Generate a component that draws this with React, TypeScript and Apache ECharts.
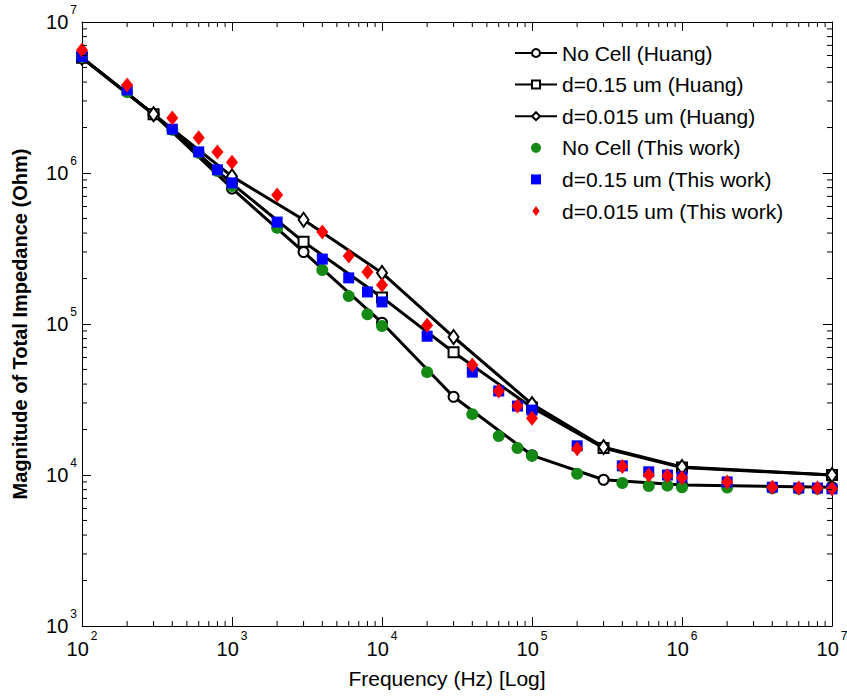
import React, { useEffect, useRef } from "react";
import * as echarts from "echarts";

// ---- Data ----
const huangFreq = [100, 300, 1000, 3000, 1e4, 3e4, 1e5, 3e5, 1e6, 1e7];
const huangNoCell = [5.8e6, 2.45e6, 7.9e5, 3.0e5, 1.02e5, 3.3e4, 1.35e4, 9.3e3, 8.6e3, 8.3e3];
const huangD015 = [5.8e6, 2.45e6, 8.5e5, 3.5e5, 1.5e5, 6.5e4, 2.8e4, 1.51e4, 1.12e4, 1.0e4];
const huangD0015 = [5.8e6, 2.45e6, 9.5e5, 4.9e5, 2.18e5, 8.2e4, 2.95e4, 1.53e4, 1.13e4, 1.0e4];

const workFreq = [
  100, 200, 400, 600, 800, 1000, 2000, 4000, 6000, 8000, 1e4, 2e4, 4e4, 6e4, 8e4, 1e5,
  2e5, 4e5, 6e5, 8e5, 1e6, 2e6, 4e6, 6e6, 8e6, 1e7,
];
const workNoCell = [
  5.86e6, 3.43e6, 1.93e6, 1.36e6, 1.03e6, 8.2e5, 4.33e5, 2.28e5, 1.53e5, 1.16e5, 9.7e4,
  4.8e4, 2.53e4, 1.81e4, 1.51e4, 1.34e4, 1.02e4, 8.85e3, 8.45e3, 8.5e3, 8.3e3, 8.25e3,
  8.15e3, 8.1e3, 8.1e3, 8.1e3,
];
const workD015 = [
  5.9e6, 3.55e6, 1.95e6, 1.38e6, 1.05e6, 8.6e5, 4.73e5, 2.69e5, 2.02e5, 1.63e5, 1.4e5,
  8.3e4, 4.8e4, 3.6e4, 2.86e4, 2.69e4, 1.56e4, 1.15e4, 1.05e4, 1.0e4, 9.7e3, 9.0e3,
  8.3e3, 8.2e3, 8.2e3, 8.1e3,
];
const workD0015 = [
  6.53e6, 3.83e6, 2.31e6, 1.71e6, 1.38e6, 1.18e6, 7.15e5, 4.06e5, 2.82e5, 2.21e5, 1.81e5,
  9.8e4, 5.35e4, 3.6e4, 2.86e4, 2.38e4, 1.49e4, 1.14e4, 1.0e4, 9.9e3, 9.6e3, 9.0e3,
  8.3e3, 8.2e3, 8.2e3, 8.1e3,
];

const seriesNames = [
  "No Cell (Huang)",
  "d=0.15 um (Huang)",
  "d=0.015 um (Huang)",
  "No Cell (This work)",
  "d=0.15 um (This work)",
  "d=0.015 um (This work)",
];

const X_MIN = 100;
const X_MAX = 1e7;
const Y_MIN = 1e3;
const Y_MAX = 1e7;

const minorMultipliers = [2, 3, 4, 5, 6, 7, 8, 9];
const xDecades = [100, 1000, 1e4, 1e5, 1e6];
const yDecades = [1000, 1e4, 1e5, 1e6];
const minorX: number[] = [];
xDecades.forEach((d) => minorMultipliers.forEach((m) => minorX.push(m * d)));
const minorY: number[] = [];
yDecades.forEach((d) => minorMultipliers.forEach((m) => minorY.push(m * d)));

const FONT = '"Liberation Sans", Arial, Helvetica, sans-serif';

const pairs = (xs: number[], ys: number[]) => xs.map((x, i) => [x, ys[i]]);

const labelFmt = (v: number) => `{b|10}{e|${Math.round(Math.log10(v))}}`;
const rich = {
  b: { fontSize: 20, lineHeight: 37, fontFamily: FONT, color: "#000" },
  e: { fontSize: 12, lineHeight: 12, verticalAlign: "top", fontFamily: FONT, color: "#000", padding: [0, 0, 0, 2] },
};

export default function App() {
  const ref = useRef<HTMLDivElement>(null);

  useEffect(() => {
    document.body.style.margin = "0";
    if (!ref.current) return;
    const chart = echarts.init(ref.current, undefined, { renderer: "svg" });

    const axisLine = { show: true, lineStyle: { color: "#000", width: 1 } };
    const axisTick = { show: true, inside: true, length: 9, lineStyle: { color: "#000", width: 1 } };

    const huangLine = (name: string, ys: number[], symbol: string, size: any) => ({
      name,
      type: "line",
      data: pairs(huangFreq, ys),
      symbol,
      symbolSize: size,
      showAllSymbol: true,
      itemStyle: { color: "#fff", borderColor: "#000", borderWidth: 2 },
      lineStyle: { color: "#000", width: 3 },
      z: 2,
    });

    const workScatter = (name: string, ys: number[], symbol: string, size: any, color: string) => ({
      name,
      type: "scatter",
      data: pairs(workFreq, ys),
      symbol,
      symbolSize: size,
      itemStyle: { color, opacity: 1 },
      z: 3,
    });

    const option: any = {
      animation: false,
      backgroundColor: "#fff",
      textStyle: { fontFamily: FONT },
      grid: { left: 82, right: 15, top: 22, bottom: 70, containLabel: false, outerBoundsMode: "none" },
      legend: {
        orient: "vertical",
        left: 514,
        top: 42,
        padding: 0,
        itemWidth: 42,
        itemHeight: 10,
        itemGap: 9.6,
        selectedMode: false,
        textStyle: { fontSize: 21, fontFamily: FONT, color: "#000", lineHeight: 22 },
        data: [
          { name: seriesNames[0] },
          { name: seriesNames[1] },
          { name: seriesNames[2] },
          { name: seriesNames[3], icon: "circle" },
          { name: seriesNames[4], icon: "path://M0,0L10,0L10,10L0,10Z" },
          { name: seriesNames[5], icon: "path://M5,0L10,7L5,14L0,7Z" },
        ],
      },
      xAxis: [
        {
          type: "log",
          logBase: 10,
          min: X_MIN,
          max: X_MAX,
          position: "bottom",
          name: "Frequency (Hz) [Log]",
          nameLocation: "middle",
          nameGap: 42,
          nameTextStyle: { fontSize: 21, fontFamily: FONT, color: "#000", padding: [0, 20, 0, 0] },
          axisLine,
          axisTick,
          splitLine: { show: false },
          axisLabel: { formatter: labelFmt, rich, margin: 4, color: "#000" },
        },
        {
          type: "log",
          logBase: 10,
          min: X_MIN,
          max: X_MAX,
          position: "top",
          axisLine,
          axisTick,
          splitLine: { show: false },
          axisLabel: { show: false },
        },
      ],
      yAxis: [
        {
          type: "log",
          logBase: 10,
          min: Y_MIN,
          max: Y_MAX,
          position: "left",
          name: "Magnitude of Total Impedance (Ohm)",
          nameLocation: "middle",
          nameGap: 52,
          nameTextStyle: { fontSize: 20, fontWeight: "bold", fontFamily: FONT, color: "#000" },
          axisLine,
          axisTick,
          splitLine: { show: false },
          axisLabel: { formatter: labelFmt, rich, margin: 5, color: "#000" },
        },
        {
          type: "log",
          logBase: 10,
          min: Y_MIN,
          max: Y_MAX,
          position: "right",
          axisLine,
          axisTick,
          splitLine: { show: false },
          axisLabel: { show: false },
        },
      ],
      series: [
        huangLine(seriesNames[0], huangNoCell, "circle", 10),
        huangLine(seriesNames[1], huangD015, "rect", 10),
        huangLine(seriesNames[2], huangD0015, "diamond", [10, 14]),
        workScatter(seriesNames[3], workNoCell, "circle", 12, "#148a14"),
        workScatter(seriesNames[4], workD015, "rect", 11, "#0000ff"),
        workScatter(seriesNames[5], workD0015, "diamond", [12, 15], "#ff0000"),
        {
          name: "xminor",
          type: "custom",
          silent: true,
          z: 5,
          data: minorX.map((v) => [v, Y_MIN]),
          encode: { x: 0, y: 1 },
          renderItem: (_p: any, api: any) => {
            const v = api.value(0);
            const b = api.coord([v, Y_MIN]);
            const t = api.coord([v, Y_MAX]);
            return {
              type: "group",
              children: [
                { type: "line", shape: { x1: b[0], y1: b[1], x2: b[0], y2: b[1] - 5 }, style: { stroke: "#000", lineWidth: 1 } },
                { type: "line", shape: { x1: t[0], y1: t[1], x2: t[0], y2: t[1] + 5 }, style: { stroke: "#000", lineWidth: 1 } },
              ],
            };
          },
        },
        {
          name: "yminor",
          type: "custom",
          silent: true,
          z: 5,
          data: minorY.map((v) => [X_MIN, v]),
          encode: { x: 0, y: 1 },
          renderItem: (_p: any, api: any) => {
            const v = api.value(1);
            const l = api.coord([X_MIN, v]);
            const r = api.coord([X_MAX, v]);
            return {
              type: "group",
              children: [
                { type: "line", shape: { x1: l[0], y1: l[1], x2: l[0] + 5, y2: l[1] }, style: { stroke: "#000", lineWidth: 1 } },
                { type: "line", shape: { x1: r[0], y1: r[1], x2: r[0] - 5, y2: r[1] }, style: { stroke: "#000", lineWidth: 1 } },
              ],
            };
          },
        },
      ],
    };

    chart.setOption(option);
    return () => chart.dispose();
  }, []);

  return <div ref={ref} style={{ width: 847, height: 696 }} />;
}
